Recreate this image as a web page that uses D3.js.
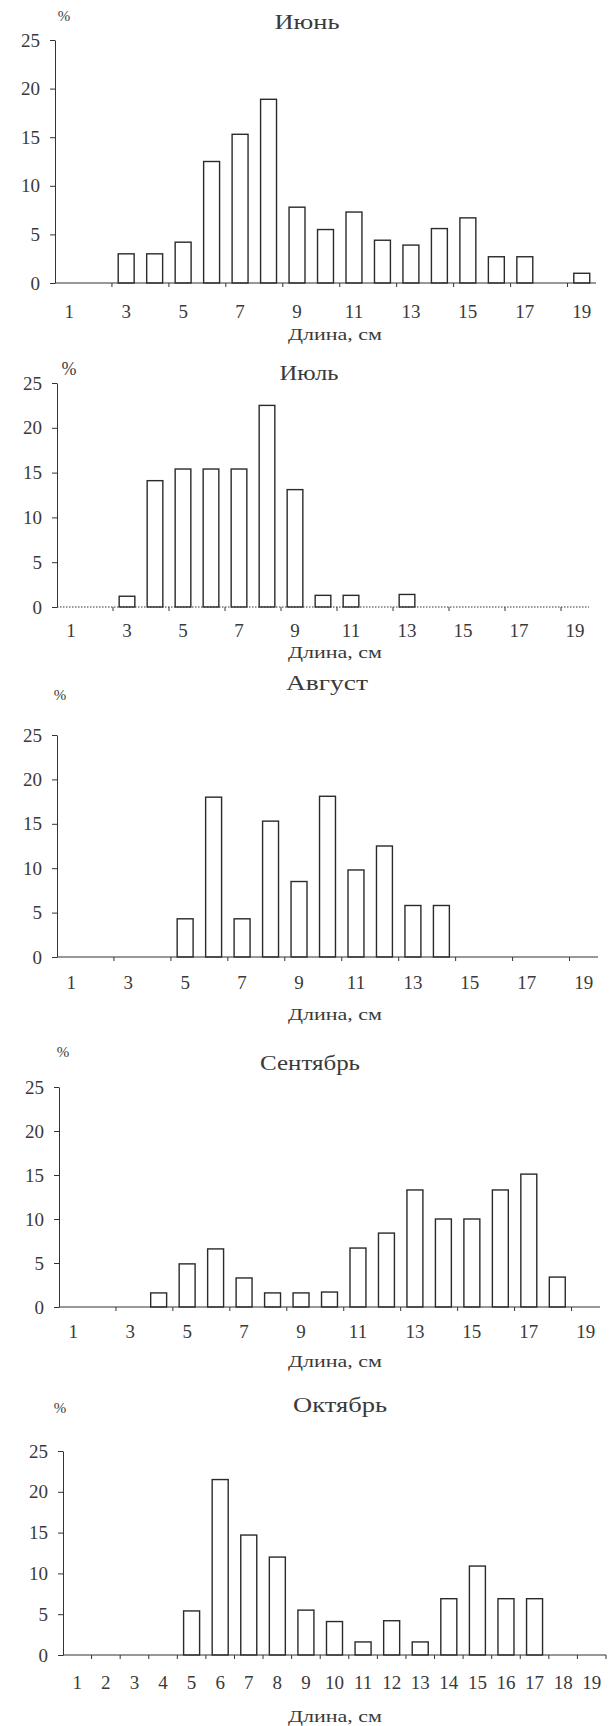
<!DOCTYPE html>
<html>
<head>
<meta charset="utf-8">
<script src="https://cdn.jsdelivr.net/npm/d3@7"></script>
<style>
  body { margin: 0; background: #fff; }
  svg text { font-family: "Liberation Serif", "DejaVu Serif", serif; fill: #3a3a3a; }
</style>
</head>
<body>
<svg id="chart" width="616" height="1726"></svg>
<script>
// длина рыбы, см
const lengths = d3.range(1, 20);
const months = ['Июнь', 'Июль', 'Август', 'Сентябрь', 'Октябрь'];
const yTicks = [0, 5, 10, 15, 20, 25];

// доля, %
const june = [0, 0, 3.0, 3.0, 4.2, 12.5, 15.3, 18.9, 7.8, 5.5, 7.3, 4.4, 3.9, 5.6, 6.7, 2.7, 2.7, 0, 1.0];
const july = [0, 0, 1.2, 14.1, 15.4, 15.4, 15.4, 22.5, 13.1, 1.3, 1.3, 0, 1.4, 0, 0, 0, 0, 0, 0];
const august = [0, 0, 0, 0, 4.3, 18.0, 4.3, 15.3, 8.5, 18.1, 9.8, 12.5, 5.8, 5.8, 0, 0, 0, 0, 0];
const september = [0, 0, 0, 1.6, 4.9, 6.6, 3.3, 1.6, 1.6, 1.7, 6.7, 8.4, 13.3, 10.0, 10.0, 13.3, 15.1, 3.4, 0];
const october = [0, 0, 0, 0, 5.4, 21.5, 14.7, 12.0, 5.5, 4.1, 1.6, 4.2, 1.6, 6.9, 10.9, 6.9, 6.9, 0, 0];

const series = [june, july, august, september, october];

// panel layout
const panels = [
  { x0: 55, x1: 596, y25: 40,   y0: 283,  title: [307, 22, 65],   pct: [64, 16],   lab: 29, axl: 335,  every: 2 },
  { x0: 57, x1: 589, y25: 383,  y0: 607,  title: [309, 373, 59],  pct: [69, 370],  lab: 24, axl: 653,  every: 2, dotted: true },
  { x0: 57, x1: 598, y25: 735,  y0: 957,  title: [327, 683, 82],  pct: [60, 695],  lab: 26, axl: 1015, every: 2 },
  { x0: 59, x1: 600, y25: 1087, y0: 1307, title: [310, 1063, 100], pct: [63, 1052], lab: 25, axl: 1362, every: 2 },
  { x0: 63, x1: 606, y25: 1451, y0: 1655, title: [340, 1405, 94], pct: [60, 1408], lab: 28, axl: 1717, every: 1 }
];

const svg = d3.select('#chart');
const ink = '#333';
const serif = '"Liberation Serif", "DejaVu Serif", serif';

panels.forEach((p, i) => {
  const g = svg.append('g');
  const values = series[i];

  const x = d3.scaleBand().domain(lengths).range([p.x0, p.x1]).paddingInner(0.44).paddingOuter(0.22);
  const xb = d3.scaleLinear().domain([0, lengths.length]).range([p.x0, p.x1]);
  const y = d3.scaleLinear().domain([0, 25]).range([p.y0, p.y25]);

  // y axis
  const ya = g.append('g')
    .attr('transform', `translate(${p.x0},0)`)
    .call(d3.axisLeft(y).tickValues(yTicks).tickSize(5).tickSizeOuter(0).tickPadding(10))
    .attr('font-family', serif)
    .attr('font-size', 19);
  ya.selectAll('path, line').attr('stroke', ink).attr('stroke-width', 1);
  ya.selectAll('text').attr('fill', '#3a3a3a');

  // bars
  g.selectAll('rect')
    .data(lengths.map((c, k) => ({ c, v: values[k] })).filter(d => d.v > 0))
    .enter().append('rect')
    .attr('x', d => x(d.c))
    .attr('y', d => y(d.v))
    .attr('width', x.bandwidth())
    .attr('height', d => y(0) - y(d.v))
    .attr('fill', '#fff')
    .attr('stroke', '#2a2a2a')
    .attr('stroke-width', 1.4);

  // x axis line and boundary ticks
  g.append('line')
    .attr('x1', p.x0).attr('x2', p.x1)
    .attr('y1', y(0)).attr('y2', y(0))
    .attr('stroke', ink).attr('stroke-width', 1)
    .attr('stroke-dasharray', p.dotted ? '1.5,1.5' : null);
  g.selectAll('.xt')
    .data(d3.range(p.every, lengths.length + 1, p.every))
    .enter().append('line')
    .attr('class', 'xt')
    .attr('x1', d => xb(d)).attr('x2', d => xb(d))
    .attr('y1', y(0)).attr('y2', y(0) + 4)
    .attr('stroke', ink).attr('stroke-width', 1);

  // x tick labels
  const xa = g.append('g')
    .attr('transform', `translate(0,${y(0)})`)
    .call(d3.axisBottom(x).tickValues(lengths.filter(c => (c - 1) % p.every === 0)).tickSize(0).tickPadding(p.lab - 7))
    .attr('font-family', serif)
    .attr('font-size', 19);
  xa.select('.domain').remove();
  xa.selectAll('text').attr('fill', '#3a3a3a');

  // title
  g.append('text')
    .attr('x', p.title[0] - p.title[2] / 2).attr('y', p.title[1] + 7)
    .attr('font-size', 21)
    .attr('textLength', p.title[2]).attr('lengthAdjust', 'spacingAndGlyphs')
    .text(months[i]);

  // percent sign
  g.append('text')
    .attr('x', p.pct[0]).attr('y', p.pct[1] + 5)
    .attr('text-anchor', 'middle')
    .attr('font-size', i === 1 ? 18 : 15)
    .attr('fill', i === 1 ? '#333' : '#666')
    .text('%');

  // axis caption
  g.append('text')
    .attr('x', 335 - 47).attr('y', p.axl + 5)
    .attr('font-size', 16)
    .attr('textLength', 94).attr('lengthAdjust', 'spacingAndGlyphs')
    .text('Длина, см');
});
</script>
</body>
</html>
